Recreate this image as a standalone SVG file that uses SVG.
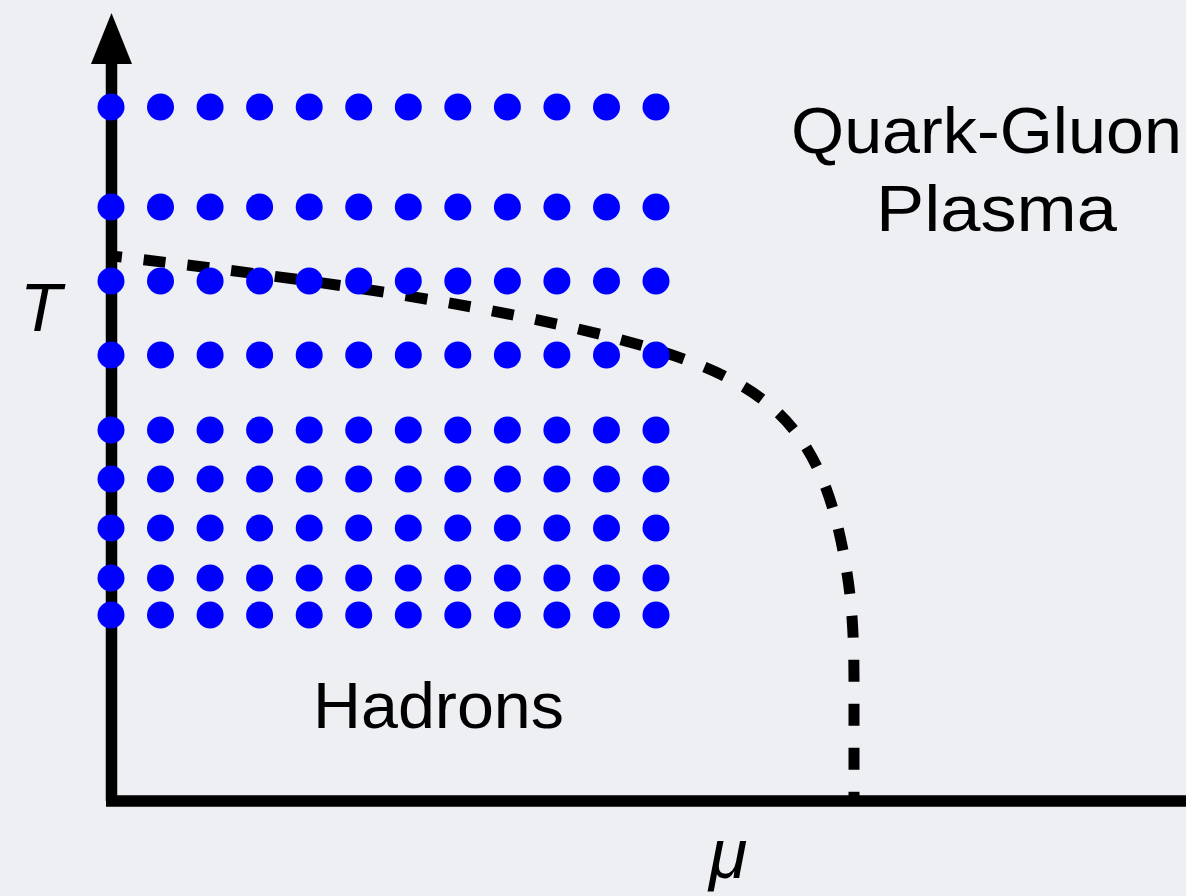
<svg xmlns="http://www.w3.org/2000/svg" width="1186" height="896" viewBox="0 0 1186 896">
<style>
.dot{fill:#0000ff}
.lbl{font-family:"Liberation Sans",Arial,sans-serif;fill:#000}
.axis{stroke:#000;stroke-width:11.5;fill:none}
.curve{stroke:#000;stroke-width:11;fill:none;stroke-dasharray:22 22;stroke-dashoffset:12;stroke-linecap:butt}
</style>
<rect x="0" y="0" width="1186" height="896" fill="#eeeff3"/>
<g id="connectors">
<line class="axis" x1="111.5" y1="801" x2="111.5" y2="60"/>
<line class="axis" x1="106" y1="801" x2="1186" y2="801"/>
<polygon points="111.5,13 91,64 132,64" fill="#000"/>
<path class="curve" d="M112,256 C300,278 500,305 640,345 C774,383.5 824,430 847,573 C851,598 854,630 854,680 L854,801"/>
</g>
<g id="grid">
<g id="row1">
<circle class="dot" cx="111" cy="107" r="13.5"/><circle class="dot" cx="160.5" cy="107" r="13.5"/><circle class="dot" cx="210.1" cy="107" r="13.5"/><circle class="dot" cx="259.6" cy="107" r="13.5"/><circle class="dot" cx="309.2" cy="107" r="13.5"/><circle class="dot" cx="358.7" cy="107" r="13.5"/><circle class="dot" cx="408.3" cy="107" r="13.5"/><circle class="dot" cx="457.8" cy="107" r="13.5"/><circle class="dot" cx="507.4" cy="107" r="13.5"/><circle class="dot" cx="556.9" cy="107" r="13.5"/><circle class="dot" cx="606.5" cy="107" r="13.5"/><circle class="dot" cx="656" cy="107" r="13.5"/>
</g>
<g id="row2">
<circle class="dot" cx="111" cy="207" r="13.5"/><circle class="dot" cx="160.5" cy="207" r="13.5"/><circle class="dot" cx="210.1" cy="207" r="13.5"/><circle class="dot" cx="259.6" cy="207" r="13.5"/><circle class="dot" cx="309.2" cy="207" r="13.5"/><circle class="dot" cx="358.7" cy="207" r="13.5"/><circle class="dot" cx="408.3" cy="207" r="13.5"/><circle class="dot" cx="457.8" cy="207" r="13.5"/><circle class="dot" cx="507.4" cy="207" r="13.5"/><circle class="dot" cx="556.9" cy="207" r="13.5"/><circle class="dot" cx="606.5" cy="207" r="13.5"/><circle class="dot" cx="656" cy="207" r="13.5"/>
</g>
<g id="row3">
<circle class="dot" cx="111" cy="281" r="13.5"/><circle class="dot" cx="160.5" cy="281" r="13.5"/><circle class="dot" cx="210.1" cy="281" r="13.5"/><circle class="dot" cx="259.6" cy="281" r="13.5"/><circle class="dot" cx="309.2" cy="281" r="13.5"/><circle class="dot" cx="358.7" cy="281" r="13.5"/><circle class="dot" cx="408.3" cy="281" r="13.5"/><circle class="dot" cx="457.8" cy="281" r="13.5"/><circle class="dot" cx="507.4" cy="281" r="13.5"/><circle class="dot" cx="556.9" cy="281" r="13.5"/><circle class="dot" cx="606.5" cy="281" r="13.5"/><circle class="dot" cx="656" cy="281" r="13.5"/>
</g>
<g id="row4">
<circle class="dot" cx="111" cy="355" r="13.5"/><circle class="dot" cx="160.5" cy="355" r="13.5"/><circle class="dot" cx="210.1" cy="355" r="13.5"/><circle class="dot" cx="259.6" cy="355" r="13.5"/><circle class="dot" cx="309.2" cy="355" r="13.5"/><circle class="dot" cx="358.7" cy="355" r="13.5"/><circle class="dot" cx="408.3" cy="355" r="13.5"/><circle class="dot" cx="457.8" cy="355" r="13.5"/><circle class="dot" cx="507.4" cy="355" r="13.5"/><circle class="dot" cx="556.9" cy="355" r="13.5"/><circle class="dot" cx="606.5" cy="355" r="13.5"/><circle class="dot" cx="656" cy="355" r="13.5"/>
</g>
<g id="row5">
<circle class="dot" cx="111" cy="430" r="13.5"/><circle class="dot" cx="160.5" cy="430" r="13.5"/><circle class="dot" cx="210.1" cy="430" r="13.5"/><circle class="dot" cx="259.6" cy="430" r="13.5"/><circle class="dot" cx="309.2" cy="430" r="13.5"/><circle class="dot" cx="358.7" cy="430" r="13.5"/><circle class="dot" cx="408.3" cy="430" r="13.5"/><circle class="dot" cx="457.8" cy="430" r="13.5"/><circle class="dot" cx="507.4" cy="430" r="13.5"/><circle class="dot" cx="556.9" cy="430" r="13.5"/><circle class="dot" cx="606.5" cy="430" r="13.5"/><circle class="dot" cx="656" cy="430" r="13.5"/>
</g>
<g id="row6">
<circle class="dot" cx="111" cy="479" r="13.5"/><circle class="dot" cx="160.5" cy="479" r="13.5"/><circle class="dot" cx="210.1" cy="479" r="13.5"/><circle class="dot" cx="259.6" cy="479" r="13.5"/><circle class="dot" cx="309.2" cy="479" r="13.5"/><circle class="dot" cx="358.7" cy="479" r="13.5"/><circle class="dot" cx="408.3" cy="479" r="13.5"/><circle class="dot" cx="457.8" cy="479" r="13.5"/><circle class="dot" cx="507.4" cy="479" r="13.5"/><circle class="dot" cx="556.9" cy="479" r="13.5"/><circle class="dot" cx="606.5" cy="479" r="13.5"/><circle class="dot" cx="656" cy="479" r="13.5"/>
</g>
<g id="row7">
<circle class="dot" cx="111" cy="528" r="13.5"/><circle class="dot" cx="160.5" cy="528" r="13.5"/><circle class="dot" cx="210.1" cy="528" r="13.5"/><circle class="dot" cx="259.6" cy="528" r="13.5"/><circle class="dot" cx="309.2" cy="528" r="13.5"/><circle class="dot" cx="358.7" cy="528" r="13.5"/><circle class="dot" cx="408.3" cy="528" r="13.5"/><circle class="dot" cx="457.8" cy="528" r="13.5"/><circle class="dot" cx="507.4" cy="528" r="13.5"/><circle class="dot" cx="556.9" cy="528" r="13.5"/><circle class="dot" cx="606.5" cy="528" r="13.5"/><circle class="dot" cx="656" cy="528" r="13.5"/>
</g>
<g id="row8">
<circle class="dot" cx="111" cy="578" r="13.5"/><circle class="dot" cx="160.5" cy="578" r="13.5"/><circle class="dot" cx="210.1" cy="578" r="13.5"/><circle class="dot" cx="259.6" cy="578" r="13.5"/><circle class="dot" cx="309.2" cy="578" r="13.5"/><circle class="dot" cx="358.7" cy="578" r="13.5"/><circle class="dot" cx="408.3" cy="578" r="13.5"/><circle class="dot" cx="457.8" cy="578" r="13.5"/><circle class="dot" cx="507.4" cy="578" r="13.5"/><circle class="dot" cx="556.9" cy="578" r="13.5"/><circle class="dot" cx="606.5" cy="578" r="13.5"/><circle class="dot" cx="656" cy="578" r="13.5"/>
</g>
<g id="row9">
<circle class="dot" cx="111" cy="615" r="13.5"/><circle class="dot" cx="160.5" cy="615" r="13.5"/><circle class="dot" cx="210.1" cy="615" r="13.5"/><circle class="dot" cx="259.6" cy="615" r="13.5"/><circle class="dot" cx="309.2" cy="615" r="13.5"/><circle class="dot" cx="358.7" cy="615" r="13.5"/><circle class="dot" cx="408.3" cy="615" r="13.5"/><circle class="dot" cx="457.8" cy="615" r="13.5"/><circle class="dot" cx="507.4" cy="615" r="13.5"/><circle class="dot" cx="556.9" cy="615" r="13.5"/><circle class="dot" cx="606.5" cy="615" r="13.5"/><circle class="dot" cx="656" cy="615" r="13.5"/>
</g>
</g>
<g id="label-qgp">
<text class="lbl" x="791" y="153" font-size="64" textLength="391" lengthAdjust="spacingAndGlyphs">Quark-Gluon</text>
<text class="lbl" x="876" y="231" font-size="64" textLength="241" lengthAdjust="spacingAndGlyphs">Plasma</text>
</g>
<g id="label-hadrons">
<text class="lbl" x="313" y="728" font-size="64" textLength="251" lengthAdjust="spacingAndGlyphs">Hadrons</text>
</g>
<g id="label-T">
<text class="lbl" x="20" y="331" font-size="68" font-style="italic">T</text>
</g>
<g id="label-mu">
<text class="lbl" x="709" y="878" font-size="70" font-style="italic">μ</text>
</g>
</svg>
